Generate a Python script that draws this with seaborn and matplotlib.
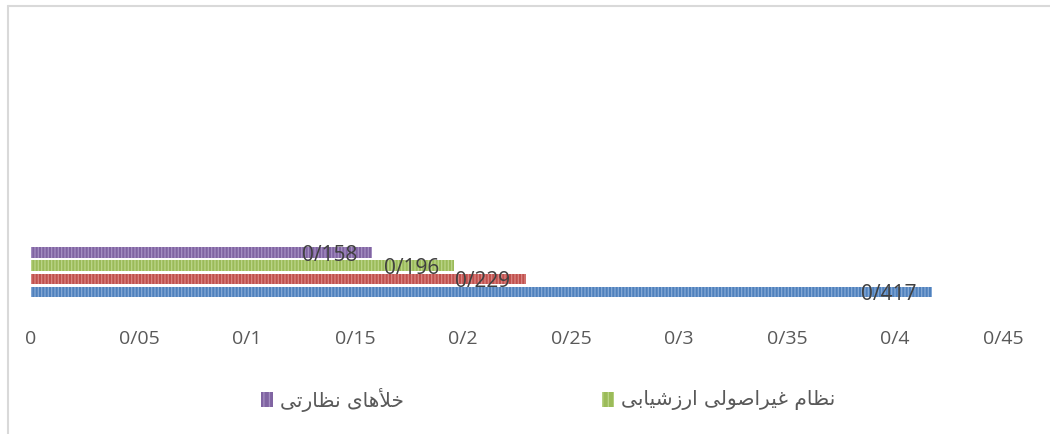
import pandas as pd
import seaborn as sns
import matplotlib.pyplot as plt
from matplotlib.lines import Line2D
from matplotlib.patches import Rectangle
from matplotlib.ticker import FuncFormatter

# Persian labels written as Arabic presentation forms in visual (left-to-right) order,
# since matplotlib does no shaping / bidi on its own
label_gaps = "\uFEF0\uFE97\uFEAD\uFE8E\uFEC8\uFEE7 \uFEEF\uFE8E\uFEEB\uFEF8\uFEA7"  # خلأهای نظارتی
label_eval = ("\uFEF0\uFE91\uFE8E\uFEF4\uFEB7\uFEAF\uFEAD\uFE8D "
              "\uFEF0\uFEDF\uFEEE\uFEBB\uFE8D\uFEAE\uFEF4\uFECF "
              "\uFEE1\uFE8E\uFEC8\uFEE7")  # نظام غیراصولی ارزشیابی

# series, top to bottom
series = [label_gaps, label_eval, "series_2", "series_1"]
values = [0.158, 0.196, 0.229, 0.417]
colors = ["#8064A2", "#9BBB59", "#C0504D", "#4F81BD"]
stripe_colors = ["#A58FC2", "#BCD68A", "#DA8583", "#86A9D6"]
xticks = [0, 0.05, 0.1, 0.15, 0.2, 0.25, 0.3, 0.35, 0.4, 0.45]
legend_series = [label_gaps, label_eval]

W, H = 1050, 435


def persian_num(v, pos=None):
    return f"{v:g}".replace(".", "/")


df = pd.DataFrame({"cat": ["c"] * len(series), "series": series, "value": values})

sns.set_style("white")
plt.rcParams["hatch.linewidth"] = 0.9

fig = plt.figure(figsize=(W / 100, H / 100), dpi=100)
ax = fig.add_axes([31 / W, 1 - 315 / H, 972 / W, 295 / H])

sns.barplot(data=df, x="value", y="cat", hue="series", hue_order=series,
            palette=colors, orient="h", width=0.8, gap=0.23, saturation=1,
            legend=False, ax=ax)

for cont, sc in zip(ax.containers, stripe_colors):
    for bar in cont:
        bar.set_hatch("|||||")
        bar.set_edgecolor(sc)
        bar.set_linewidth(0)

# data labels, inside the bar end
for cont, v in zip(ax.containers, values):
    bar = cont[0]
    yc = bar.get_y() + bar.get_height() / 2
    ax.annotate(persian_num(round(v, 3)), (v, yc), xytext=(-11, -1.5),
                textcoords="offset points", ha="right", va="center",
                fontsize=15, color="#404040", family="Open Sans")

ax.set_xlim(0, 0.45)
ax.set_ylim(0.646, -3.892)
ax.set_xticks(xticks)
ax.xaxis.set_major_formatter(FuncFormatter(persian_num))
ax.tick_params(axis="x", length=0, pad=11, labelsize=14, labelcolor="#595959")
for lbl in ax.get_xticklabels():
    lbl.set_family("Open Sans")
ax.set_yticks([])
ax.set_xlabel("")
ax.set_ylabel("")
sns.despine(ax=ax, left=True, bottom=True)

# legend (only the two entries that fit in the frame)
leg_pos = {label_gaps: 261, label_eval: 602}
for name in legend_series:
    i = series.index(name)
    x0 = leg_pos[name]
    fig.add_artist(Rectangle((x0 / W, 1 - 408 / H), 12 / W, 15 / H,
                             transform=fig.transFigure, facecolor=colors[i],
                             edgecolor=stripe_colors[i], hatch="|||", linewidth=0))
    fig.text((x0 + 19) / W, 1 - 400 / H, name, ha="left", va="center",
             fontsize=14.5, color="#595959", family=["DejaVu Sans"])

# chart frame (left and top edges visible)
fig.add_artist(Line2D([8 / W, 8 / W], [0, 1 - 7 / H], transform=fig.transFigure,
                      color="#D9D9D9", lw=1.5))
fig.add_artist(Line2D([8 / W, 1], [1 - 7 / H, 1 - 7 / H], transform=fig.transFigure,
                      color="#D9D9D9", lw=1.5))

fig.savefig("out.png", dpi=100)
plt.close(fig)
